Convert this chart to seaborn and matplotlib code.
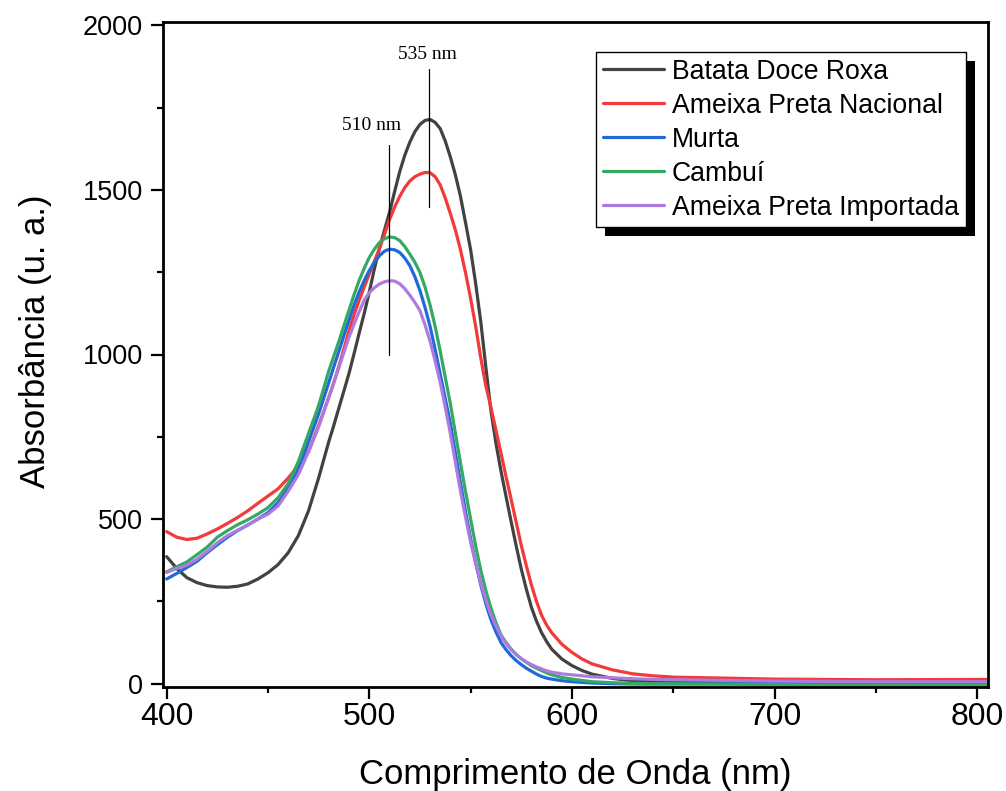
import numpy as np
import pandas as pd
import matplotlib
matplotlib.use("Agg")
import matplotlib.pyplot as plt
import matplotlib.patches as mpatches
import matplotlib.transforms as mtransforms
from matplotlib.ticker import MultipleLocator
import seaborn as sns

# ---------------- data ----------------
# sampling wavelengths (nm): 5 nm steps, 2.5 nm steps across the bands, sparse tail
wavelength = list(np.arange(400, 470.1, 5.0)) + list(np.arange(472.5, 590.1, 2.5)) + \
    [595, 600, 605, 610, 620, 630, 640, 650, 700, 750, 800, 805]

batata_doce_roxa = [
    386, 350, 322, 307, 298, 294, 293, 296, 303, 318, 337, 362, 398, 450, 525,
    575, 625, 680, 735, 785, 838, 890, 943, 1003, 1065, 1125, 1190, 1260, 1322, 1378, 1432,
    1495, 1555, 1605, 1645, 1677, 1699, 1711, 1714, 1705, 1686, 1648, 1600, 1545, 1480,
    1400, 1318, 1215, 1100, 962, 830, 730, 645, 568, 492, 418, 348, 287, 232, 190, 155,
    128, 105,
    75, 55, 40, 29, 16, 9, 6, 5, 4, 3, 3, 3]

ameixa_nacional = [
    462, 445, 438, 442, 455, 470, 487, 505, 525, 548, 570, 592, 625, 662, 705,
    745, 785, 827, 870, 915, 965, 1018, 1072, 1122, 1165, 1205, 1245, 1283, 1322, 1365, 1410,
    1448, 1480, 1507, 1527, 1540, 1548, 1553, 1552, 1540, 1515, 1475, 1428, 1378, 1318,
    1248, 1170, 1085, 990, 905, 840, 770, 700, 628, 560, 490, 420, 358, 300, 250, 208,
    178, 155,
    120, 95, 75, 60, 42, 30, 24, 20, 14, 12, 13, 13]

murta = [
    318, 335, 353, 372, 398, 422, 445, 465, 482, 500, 520, 550, 595, 650, 735,
    777, 820, 867, 915, 963, 1010, 1058, 1105, 1150, 1190, 1225, 1255, 1280, 1300, 1314, 1320,
    1318, 1310, 1293, 1270, 1236, 1194, 1143, 1085, 1015, 940, 865, 790, 700, 610,
    522, 440, 367, 300, 243, 195, 157, 125, 103, 85, 70, 58, 47, 38, 29, 22,
    17, 14,
    9, 6, 4, 2, 0, -1, -1, -1, 0, 0, 0, 0]

cambui = [
    340, 355, 370, 392, 415, 445, 465, 483, 498, 515, 535, 565, 608, 675, 760,
    802, 845, 897, 950, 995, 1040, 1088, 1135, 1182, 1225, 1262, 1295, 1320, 1340, 1352, 1357,
    1355, 1346, 1328, 1305, 1280, 1249, 1205, 1150, 1085, 1010, 930, 850, 760, 670,
    583, 500, 418, 345, 283, 230, 185, 148, 125, 105, 89, 76, 65, 55, 47, 40,
    33, 27,
    19, 14, 10, 6, 3, 1, 0, 0, -3, -5, -5, -5]

ameixa_importada = [
    338, 350, 360, 378, 402, 428, 450, 466, 482, 500, 515, 540, 585, 635, 705,
    742, 780, 825, 870, 915, 960, 1007, 1053, 1093, 1130, 1165, 1188, 1203, 1214, 1221, 1224,
    1223, 1215, 1200, 1180, 1158, 1133, 1090, 1040, 980, 915, 840, 760, 672, 585,
    505, 430, 365, 305, 255, 210, 175, 145, 122, 103, 88, 76, 66, 58, 51, 45,
    39, 35,
    30, 27, 24, 21, 18, 15, 13, 12, 8, 6, 6, 6]

series_names = ["Batata Doce Roxa", "Ameixa Preta Nacional", "Murta", "Cambuí",
                "Ameixa Preta Importada"]
series_colors = ["#424242", "#f23a3a", "#1f6ad8", "#35a865", "#ad7be0"]

annot_labels = ["510 nm", "535 nm"]
annot_line_x = [509.5, 529.5]
annot_line_y0 = [999, 1449]
annot_line_y1 = [1635, 1866]
annot_text_x = [501.3, 528.9]
annot_text_y = [1695, 1910]

# ---------------- build long table ----------------
values = [batata_doce_roxa, ameixa_nacional, murta, cambui, ameixa_importada]
frames = []
for name, vals in zip(series_names, values):
    assert len(vals) == len(wavelength), (name, len(vals), len(wavelength))
    frames.append(pd.DataFrame({"Comprimento": wavelength, "Absorbancia": vals,
                                "Amostra": name}))
df = pd.concat(frames, ignore_index=True)

# ---------------- style ----------------
sns.set_style("ticks")
plt.rcParams["font.family"] = ["Liberation Sans", "DejaVu Sans"]
plt.rcParams["text.color"] = "black"
plt.rcParams["axes.labelcolor"] = "black"
plt.rcParams["xtick.color"] = "black"
plt.rcParams["ytick.color"] = "black"
plt.rcParams["axes.linewidth"] = 2.0

fig = plt.figure(figsize=(10.06, 7.91), dpi=100)
ax = fig.add_axes([163 / 1006, 1 - 687 / 791, (988 - 163) / 1006, (687 - 22) / 791])

sns.lineplot(data=df, x="Comprimento", y="Absorbancia", hue="Amostra",
             hue_order=series_names, palette=series_colors, linewidth=2.3,
             ax=ax, legend=True, sort=False, estimator=None)

ax.set_xlim(398.2, 805.3)
ax.set_ylim(-10, 2010)

ax.xaxis.set_major_locator(MultipleLocator(100))
ax.xaxis.set_minor_locator(MultipleLocator(50))
ax.yaxis.set_major_locator(MultipleLocator(500))
ax.yaxis.set_minor_locator(MultipleLocator(250))
ax.tick_params(which="major", direction="out", length=8.5, width=1.6, colors="black")
ax.tick_params(which="minor", direction="out", length=4, width=1.6, colors="black")
ax.tick_params(axis="y", which="both", left=True)
ax.tick_params(axis="x", which="both", bottom=True)
ax.tick_params(axis="y", which="major", labelsize=19.5, pad=6)
ax.tick_params(axis="x", which="major", labelsize=23, pad=2)

for s in ax.spines.values():
    s.set_visible(True)
    s.set_color("black")
    s.set_linewidth(2.0)

ax.set_xlabel("Comprimento de Onda (nm)", fontsize=25, labelpad=19)
ax.set_ylabel("Absorbância (u. a.)", fontsize=25)
ax.yaxis.set_label_coords(-0.134, 0.52)

# annotation lines and labels
for lx, y0, y1 in zip(annot_line_x, annot_line_y0, annot_line_y1):
    ax.plot([lx, lx], [y0, y1], color="black", linewidth=0.9, zorder=6)
for tx, ty, lab in zip(annot_text_x, annot_text_y, annot_labels):
    ax.text(tx, ty, lab, ha="center", va="center", fontsize=14,
            family=["Liberation Serif", "DejaVu Serif"], color="black")

# legend
handles, labels = ax.get_legend_handles_labels()
leg = ax.legend(handles, labels, loc="upper left",
                bbox_to_anchor=((596 - 163) / 825, (687 - 52) / 665),
                borderaxespad=0, fontsize=19.2, frameon=True, fancybox=False,
                handlelength=2.3, handletextpad=0.3, labelspacing=0.3,
                borderpad=0.25)
leg.get_frame().set_edgecolor("black")
leg.get_frame().set_linewidth(1.0)
leg.get_frame().set_facecolor("white")
leg.get_frame().set_alpha(1)
for h in leg.get_lines():
    h.set_linewidth(2.3)
leg.set_zorder(10)

fig.canvas.draw()
bb = leg.get_window_extent()
off = 9
shadow = mpatches.Rectangle((bb.x0 + off, bb.y0 - off), bb.width, bb.height,
                            transform=mtransforms.IdentityTransform(),
                            facecolor="black", edgecolor="none", zorder=9,
                            clip_on=False)
ax.add_patch(shadow)

fig.savefig("out.png", dpi=100)
